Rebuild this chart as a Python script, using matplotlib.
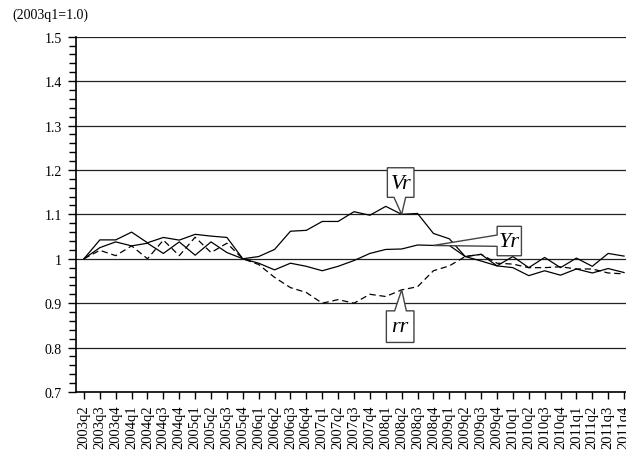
import matplotlib
matplotlib.use('Agg')
import matplotlib.pyplot as plt
import matplotlib.transforms as mtransforms
from matplotlib.patches import Polygon
from matplotlib.ticker import MultipleLocator, FuncFormatter

plt.rcParams['font.family'] = ['Liberation Serif', 'DejaVu Serif']

# quarters on the x axis
quarters = ['2003q2', '2003q3', '2003q4',
            '2004q1', '2004q2', '2004q3', '2004q4',
            '2005q1', '2005q2', '2005q3', '2005q4',
            '2006q1', '2006q2', '2006q3', '2006q4',
            '2007q1', '2007q2', '2007q3', '2007q4',
            '2008q1', '2008q2', '2008q3', '2008q4',
            '2009q1', '2009q2', '2009q3', '2009q4',
            '2010q1', '2010q2', '2010q3', '2010q4',
            '2011q1', '2011q2', '2011q3', '2011q4']

# index values, 2003q1 = 1.0
vr = [1.0, 1.0425, 1.0425, 1.06, 1.036, 1.048, 1.042, 1.055, 1.051, 1.048, 1.0,
      1.005, 1.021, 1.062, 1.064, 1.084, 1.084, 1.106, 1.098, 1.118, 1.1,
      1.102, 1.057, 1.045, 1.005, 1.01, 0.984, 1.005, 0.98, 1.003, 0.98,
      1.0015, 0.983, 1.012, 1.006]
yr = [1.0, 1.025, 1.038, 1.029, 1.035, 1.012, 1.038, 1.008, 1.038, 1.014, 1.0,
      0.99, 0.975, 0.99, 0.983, 0.973, 0.983, 0.996, 1.012, 1.021, 1.022,
      1.031, 1.03, 1.03, 1.005, 0.995, 0.984, 0.98, 0.962, 0.973, 0.963,
      0.977, 0.968, 0.978, 0.969]
rr = [1.0, 1.019, 1.007, 1.029, 1.0, 1.042, 1.007, 1.0485, 1.014, 1.035, 1.0,
      0.987, 0.958, 0.935, 0.924, 0.90, 0.908, 0.90, 0.92, 0.915, 0.93,
      0.937, 0.973, 0.984, 1.005, 1.01, 0.99, 0.988, 0.98, 0.98, 0.982,
      0.977, 0.977, 0.968, 0.966]

fig = plt.figure(figsize=(6.26, 4.56), dpi=100)
ax = fig.add_axes([76 / 626, 63 / 456, 556 / 626, 355.3 / 456])

x = list(range(len(quarters)))
ax.plot(x, vr, color='black', lw=0.9, zorder=3)
ax.plot(x, yr, color='black', lw=0.9, zorder=3)
ax.plot(x, rr, color='black', lw=0.9, dashes=(5, 3), zorder=3)

ax.set_xlim(-0.5, len(quarters) - 0.5)
ax.set_ylim(0.7, 1.5)

ax.yaxis.set_major_locator(MultipleLocator(0.1))
ax.yaxis.set_minor_locator(MultipleLocator(0.02))
ax.yaxis.set_major_formatter(FuncFormatter(lambda v, p: '%g' % round(v, 1)))
ax.grid(axis='y', which='major', color='#222222', lw=0.9)
ax.set_axisbelow(True)

ax.set_xticks(x)
ax.set_xticklabels(quarters, rotation=90, fontsize=10.5)
ax.tick_params(axis='x', length=5, width=1, direction='out', pad=4)
ax.tick_params(axis='y', which='major', length=6, width=1, direction='out',
               labelsize=10, pad=4)
ax.tick_params(axis='y', which='minor', length=5, width=1, direction='out')

for s in ['top', 'right']:
    ax.spines[s].set_visible(False)
ax.spines['left'].set_linewidth(1.2)
ax.spines['bottom'].set_linewidth(1.2)

fig.text(12 / 626, 1 - 15 / 456, '(2003q1=1.0)', fontsize=10, va='center', ha='left')


# callout boxes, vertices in pixels relative to the tip
def callout(i, series, verts, text, txy):
    tx, ty = ax.transData.transform((i, series[i]))
    trans = mtransforms.Affine2D().translate(tx, ty)
    ax.add_patch(Polygon(verts, closed=True, facecolor='white', edgecolor='#444444',
                         lw=1.0, transform=trans, clip_on=False, zorder=5))
    ax.annotate(text, xy=(i, series[i]), xytext=txy, textcoords='offset pixels',
                ha='center', va='center', fontsize=16, style='italic', zorder=6)


callout(20, vr, [(0, 0), (4, 17), (12.3, 17), (12.3, 46.6), (-14.3, 46.6),
                 (-14.3, 17), (-7.7, 17)], 'Vr', (-1, 31))
callout(20, rr, [(0, 0), (4.7, -21), (12.3, -21), (12.3, -52.6), (-15.3, -52.6),
                 (-15.3, -21), (-7, -21)], 'rr', (-1.5, -37))
callout(22, yr, [(0, 0), (63.7, 10.4), (63.7, 19.1), (88, 19.1), (88, -10.3),
                 (63.7, -10.3), (63.7, -0.9)], 'Yr', (76, 4))

fig.savefig('out.png', dpi=100)
